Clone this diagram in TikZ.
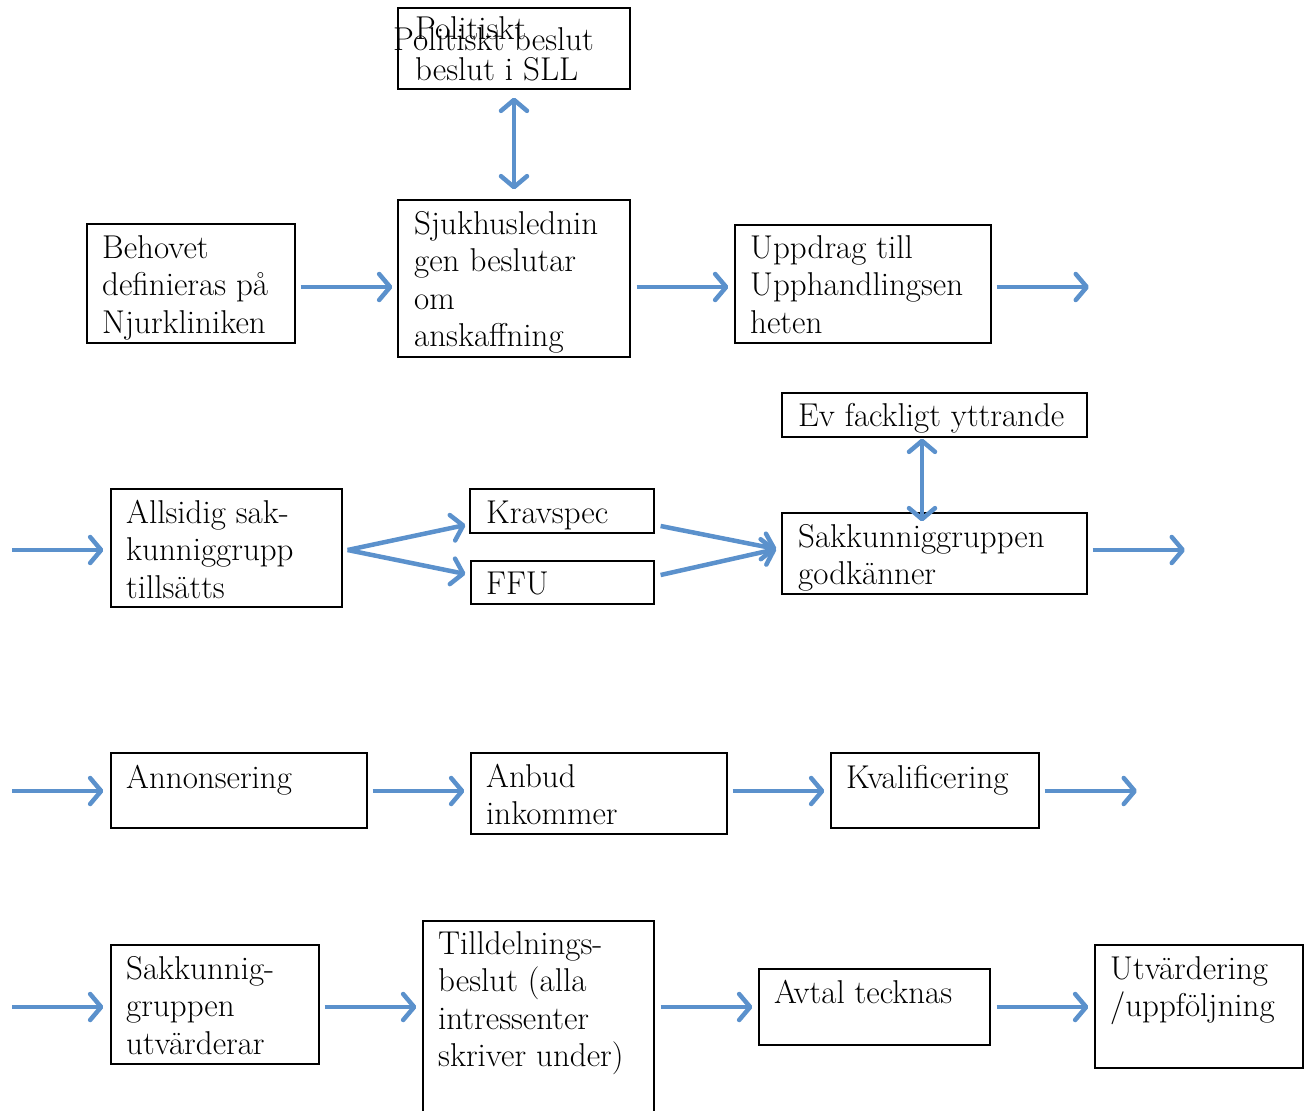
\documentclass[tikz,border=0pt]{standalone}
\usepackage{fontspec}
\usetikzlibrary{arrows.meta}
\definecolor{flow}{RGB}{91,145,204}
\begin{document}
\begin{tikzpicture}[x=1pt,y=-1pt,
  box/.style={draw=black, line width=1.2pt, inner sep=0pt},
  txt/.style={anchor=north west, inner sep=0pt, align=left,
    font=\fontsize{33}{37.5}\selectfont},
  arr/.style={draw=flow, line width=4.5pt,
    -{Straight Barb[length=11pt,width=26pt,round]}},
  darr/.style={draw=flow, line width=4.5pt,
    {Straight Barb[length=11pt,width=26pt,round]}-{Straight Barb[length=11pt,width=26pt,round]}}
]
\useasboundingbox (0,0) rectangle (1304,1111);

% row guides for the horizontal connectors
\coordinate (r1) at (0,287);
\coordinate (r2) at (0,550);
\coordinate (r3) at (0,791);
\coordinate (r4) at (0,1007);

% ---------- row 1 ----------
\node[box, minimum width=232, minimum height=81]  (pol) at (514,48.5) {};
\node[box, minimum width=232, minimum height=157] (sjh) at (514,278.5) {};
\node[box, minimum width=208, minimum height=119] (beh) at (191,283.5) {};
\node[box, minimum width=256, minimum height=118] (upp) at (863,284) {};

\node[txt, font=\fontsize{33}{41}\selectfont] (polt) at (415,10.3) {\strut Politiskt\\beslut i SLL};
\node[txt] (polx) at (393,23.75) {\strut Politiskt beslut};
\node[txt] (beht) at (102,231.75) {\strut Behovet\\definieras på\\Njurkliniken};
\node[txt] (sjht) at (414,207.75) {\strut Sjukhuslednin\\gen beslutar\\om\\anskaffning};
\node[txt] (uppt) at (750,231.75) {\strut Uppdrag till\\Upphandlingsen\\heten};

\coordinate (o1) at (1089,287);

\draw[darr] ([yshift=-8pt]pol.south) -- ([yshift=10pt]sjh.north);
\draw[arr] ([xshift=5pt]beh.east |- r1) -- ([xshift=-5pt]sjh.west |- r1);
\draw[arr] ([xshift=6pt]sjh.east |- r1) -- ([xshift=-6pt]upp.west |- r1);
\draw[arr] ([xshift=5pt]upp.east |- r1) -- (o1);

% ---------- row 2 ----------
\node[box, minimum width=231, minimum height=118] (all) at (226.5,548) {};
\node[box, minimum width=184, minimum height=44]  (krv) at (562,511) {};
\node[box, minimum width=183, minimum height=43]  (ffu) at (562.5,582.5) {};
\node[box, minimum width=305, minimum height=44]  (ev)  at (934.5,415) {};
\node[box, minimum width=305, minimum height=81]  (sak) at (934.5,553.5) {};

\node[txt] (allt) at (126,496.75) {\strut Allsidig sak-\\kunniggrupp\\tillsätts};
\node[txt] (krvt) at (486,496.75) {\strut Kravspec};
\node[txt] (ffut) at (486,567.75) {\strut FFU};
\node[txt] (evt)  at (798,399.75) {\strut Ev fackligt yttrande};
\node[txt] (sakt) at (798,520.75) {\strut Sakkunniggruppen\\godkänner};

\coordinate (i2) at (12,550);
\coordinate (o2) at (1185,550);

\draw[arr] (i2) -- ([xshift=-7pt]all.west |- r2);
\draw[arr] ([xshift=5pt]all.east |- r2) -- ([shift={(-4pt,-14pt)}]krv.west);
\draw[arr] ([xshift=5pt]all.east |- r2) -- ([shift={(-5pt,8.5pt)}]ffu.west);
\draw[arr] ([shift={(6pt,-15pt)}]krv.east) -- ([shift={(-5pt,4.5pt)}]sak.west);
\draw[arr] ([shift={(6pt,7.5pt)}]ffu.east) -- ([shift={(-5pt,4.5pt)}]sak.west);
\draw[darr] ([shift={(-12.5pt,-1pt)}]ev.south) -- ([shift={(-12.5pt,-9pt)}]sak.north);
\draw[arr] ([xshift=5pt]sak.east |- r2) -- (o2);

% ---------- row 3 ----------
\node[box, minimum width=256, minimum height=75] (ann) at (239,790.5) {};
\node[box, minimum width=256, minimum height=81] (anb) at (599,793.5) {};
\node[box, minimum width=208, minimum height=75] (kva) at (935,790.5) {};

\node[txt] (annt) at (126,761.75) {\strut Annonsering};
\node[txt] (anbt) at (486,760.75) {\strut Anbud\\inkommer};
\node[txt] (kvat) at (846,761.75) {\strut Kvalificering};

\coordinate (i3) at (12,791);
\coordinate (o3) at (1137,791);

\draw[arr] (i3) -- ([xshift=-7pt]ann.west |- r3);
\draw[arr] ([xshift=5pt]ann.east |- r3) -- ([xshift=-6pt]anb.west |- r3);
\draw[arr] ([xshift=5pt]anb.east |- r3) -- ([xshift=-6pt]kva.west |- r3);
\draw[arr] ([xshift=5pt]kva.east |- r3) -- (o3);

% ---------- row 4 ----------
\node[box, minimum width=208, minimum height=119] (sku) at (215,1004.5) {};
\node[box, minimum width=231, minimum height=195] (til) at (538.5,1018.5) {};
\node[box, minimum width=231, minimum height=76]  (avt) at (874.5,1007) {};
\node[box, minimum width=208, minimum height=123] (utv) at (1199,1006.5) {};

\node[txt] (skut) at (126,952.75) {\strut Sakkunnig-\\gruppen\\utvärderar};
\node[txt] (tilt) at (438,927.75) {\strut Tilldelnings-\\beslut (alla\\intressenter\\skriver under)};
\node[txt] (avtt) at (774,976.75) {\strut Avtal tecknas};
\node[txt] (utvt) at (1110,952.75) {\strut Utvärdering\\/uppföljning};

\coordinate (i4) at (12,1007);

\draw[arr] (i4) -- ([xshift=-7pt]sku.west |- r4);
\draw[arr] ([xshift=5pt]sku.east |- r4) -- ([xshift=-6pt]til.west |- r4);
\draw[arr] ([xshift=6pt]til.east |- r4) -- ([xshift=-6pt]avt.west |- r4);
\draw[arr] ([xshift=6pt]avt.east |- r4) -- ([xshift=-6pt]utv.west |- r4);
\end{tikzpicture}
\end{document}
